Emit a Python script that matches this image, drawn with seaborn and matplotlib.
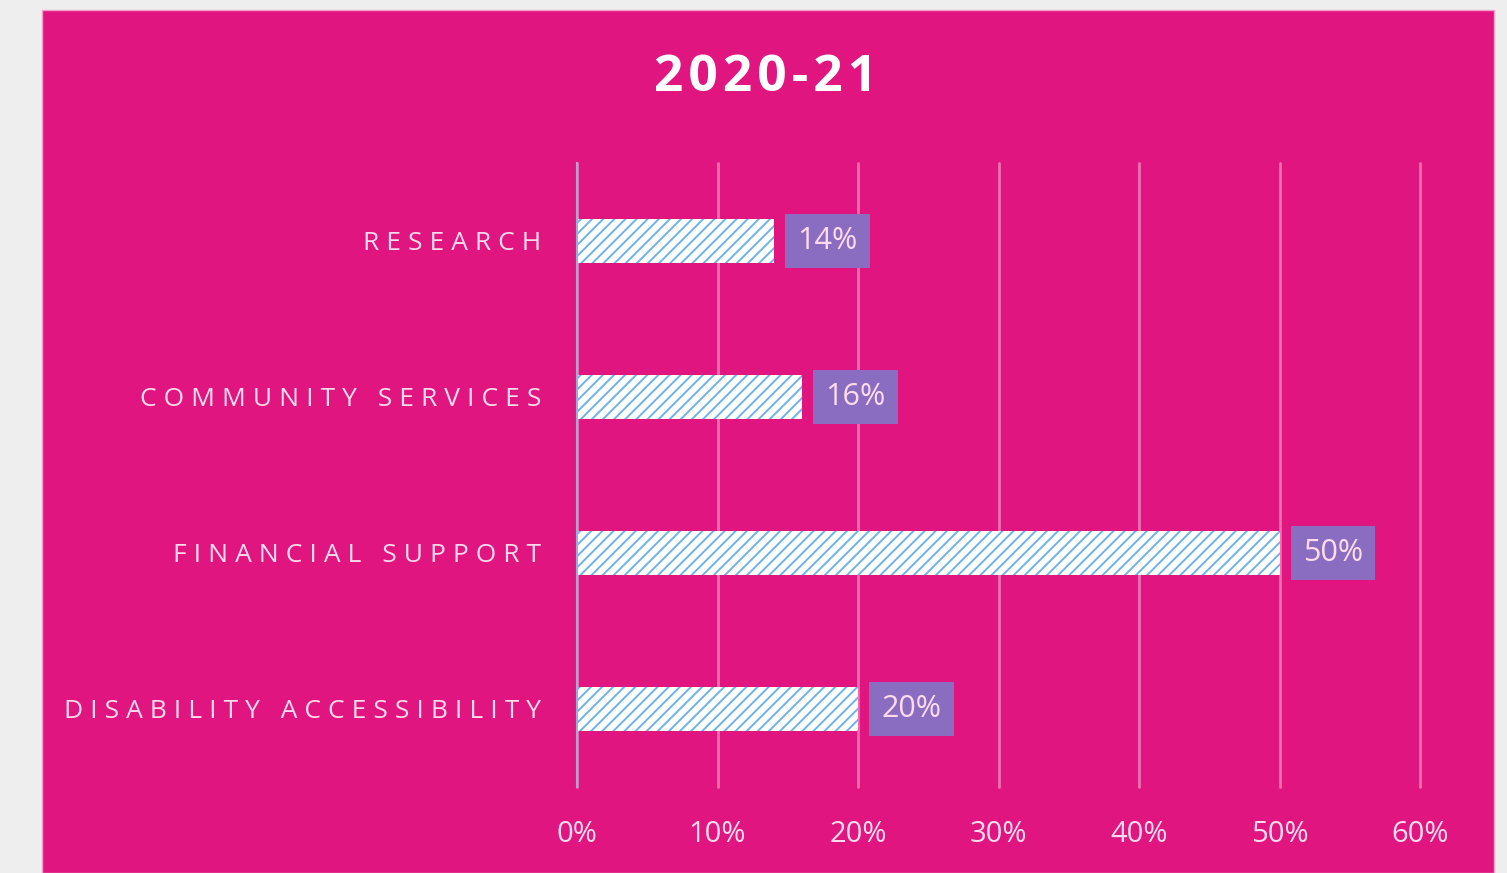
import numpy as np
import pandas as pd
import matplotlib
matplotlib.use('Agg')
import matplotlib.pyplot as plt
import seaborn as sns
from matplotlib.patches import Rectangle

categories = ['RESEARCH', 'COMMUNITY SERVICES', 'FINANCIAL SUPPORT', 'DISABILITY ACCESSIBILITY']
shares = [0.14, 0.16, 0.50, 0.20]
xticks = [0, 0.1, 0.2, 0.3, 0.4, 0.5, 0.6]
title = '2020-21'

PINK = '#e0157f'
GRID = '#ee6fb0'
TEXT = '#fbdcec'
LABEL_BOX = '#8a6cc0'
HATCH = '#6fb2ea'

sns.set_theme(style='white')
plt.rcParams['font.family'] = ['Open Sans', 'DejaVu Sans']
plt.rcParams['hatch.linewidth'] = 1.4

df = pd.DataFrame({'category': categories, 'share': shares})


def spaced(s, sep='\u2009\u200a'):
    # fake letter spacing
    return sep.join(s)


fig = plt.figure(figsize=(15.07, 8.73), dpi=100)
fig.patch.set_facecolor('#eeeeee')
fig.patches.append(Rectangle((42 / 1507, 0), (1494 - 42) / 1507, 1 - 10 / 873,
                             transform=fig.transFigure, facecolor=PINK,
                             edgecolor='#f0a0c8', lw=1, zorder=-10))

ax = fig.add_axes([577 / 1507, 1 - 787 / 873, (1420 - 577) / 1507, (787 - 163) / 873])
ax.set_facecolor('none')

sns.barplot(data=df, x='share', y='category', orient='h', width=0.28,
            color='white', ax=ax, zorder=3)
for bar in ax.patches:
    bar.set_hatch('///')
    bar.set_edgecolor(HATCH)
    bar.set_linewidth(0)

for i, v in enumerate(shares):
    ax.annotate(f'{v:.0%}', (v, i), xytext=(17, 0), textcoords='offset points',
                ha='left', va='center', fontsize=22, color=TEXT, zorder=5,
                bbox=dict(boxstyle='square,pad=0.4', fc=LABEL_BOX, ec='none'))

ax.set_xlim(0, 0.6)
ax.set_ylim(3.5, -0.5)
ax.set_xticks(xticks)
ax.set_xticklabels([f'{t:.0%}' for t in xticks])
ax.set_yticks(range(len(categories)))
ax.set_yticklabels([spaced(c) for c in categories])
ax.tick_params(axis='x', length=0, pad=24, labelsize=21, labelcolor=TEXT)
ax.tick_params(axis='y', length=0, pad=26, labelsize=19, labelcolor=TEXT)
ax.set_xlabel('')
ax.set_ylabel('')

ax.grid(axis='x', color=GRID, lw=2, zorder=0)
ax.set_axisbelow(True)
for line in ax.get_xgridlines():
    line.set_clip_on(False)
for s in ['top', 'right', 'bottom']:
    ax.spines[s].set_visible(False)
ax.spines['left'].set_color('#a8a8d8')
ax.spines['left'].set_linewidth(1.5)
ax.spines['left'].set_zorder(4)

fig.text(766 / 1507, 1 - 78 / 873, '\u200a'.join(title), ha='center', va='center',
         fontsize=37, fontweight='bold', color='white')

fig.savefig('out.png', dpi=100, facecolor=fig.get_facecolor())
